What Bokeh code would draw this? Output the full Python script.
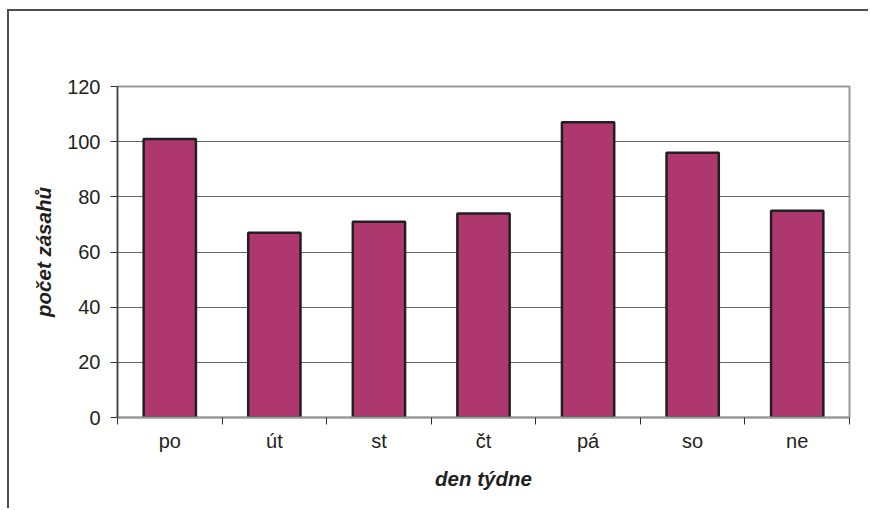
from bokeh.plotting import figure
from bokeh.models import Range1d, FixedTicker
from bokeh.embed import file_html
from bokeh.resources import INLINE

days = ["po", "út", "st", "čt", "pá", "so", "ne"]
hits = [101, 67, 71, 74, 107, 96, 75]
y_ticks = [0, 20, 40, 60, 80, 100, 120]
x_title = "den týdne"
y_title = "počet zásahů"

centers = [i + 0.5 for i in range(len(days))]
bounds = list(range(len(days) + 1))

FONT = "Liberation Sans"
TXT = "#231f20"

p = figure(width=861, height=499, output_backend="svg", toolbar_location=None,
           x_range=Range1d(0, len(days)), y_range=Range1d(0, y_ticks[-1]),
           min_border_left=108, min_border_right=21, min_border_top=75,
           min_border_bottom=93)
p.styles = {"margin-left": "7px", "margin-top": "9px",
            "border-top": "2px solid #4d4d4d", "border-left": "2px solid #4d4d4d"}
p.background_fill_color = "white"
p.border_fill_color = "white"
p.outline_line_color = "#9a9a9a"
p.outline_line_width = 2

p.vbar(x=centers, top=hits, bottom=0, width=0.5,
       fill_color="#AE386D", line_color="#231f20", line_width=2.5)

# grid
p.xgrid.grid_line_color = None
p.ygrid.ticker = FixedTicker(ticks=y_ticks)
p.ygrid.grid_line_color = "#666666"
p.ygrid.grid_line_width = 1

# y axis
ya = p.yaxis[0]
ya.ticker = FixedTicker(ticks=y_ticks)
ya.axis_line_color = "#444444"
ya.axis_line_width = 1.5
ya.major_tick_line_color = "#333333"
ya.major_tick_out = 7
ya.major_tick_in = 0
ya.minor_tick_line_color = None
ya.major_label_standoff = 10
ya.major_label_text_font = FONT
ya.major_label_text_font_size = "20px"
ya.major_label_text_color = TXT
ya.axis_label = y_title
ya.axis_label_text_font = FONT
ya.axis_label_text_font_size = "20.5px"
ya.axis_label_text_font_style = "bold italic"
ya.axis_label_text_color = TXT
ya.axis_label_standoff = 9

# x axis: ticks at category boundaries, labels at centres
xa = p.xaxis[0]
xa.ticker = FixedTicker(ticks=centers, minor_ticks=bounds)
xa.major_label_overrides = {c: d for c, d in zip(centers, days)}
xa.axis_line_color = "#999999"
xa.axis_line_width = 2
xa.major_tick_line_color = None
xa.major_tick_out = 7
xa.major_tick_in = 0
xa.minor_tick_line_color = "#333333"
xa.minor_tick_out = 7
xa.minor_tick_in = 0
xa.major_label_standoff = 5
xa.major_label_text_font = FONT
xa.major_label_text_font_size = "20px"
xa.major_label_text_color = TXT
xa.axis_label = x_title
xa.axis_label_text_font = FONT
xa.axis_label_text_font_size = "20.5px"
xa.axis_label_text_font_style = "bold italic"
xa.axis_label_text_color = TXT
xa.axis_label_standoff = 12

open("out.html", "w").write(file_html(p, INLINE))
